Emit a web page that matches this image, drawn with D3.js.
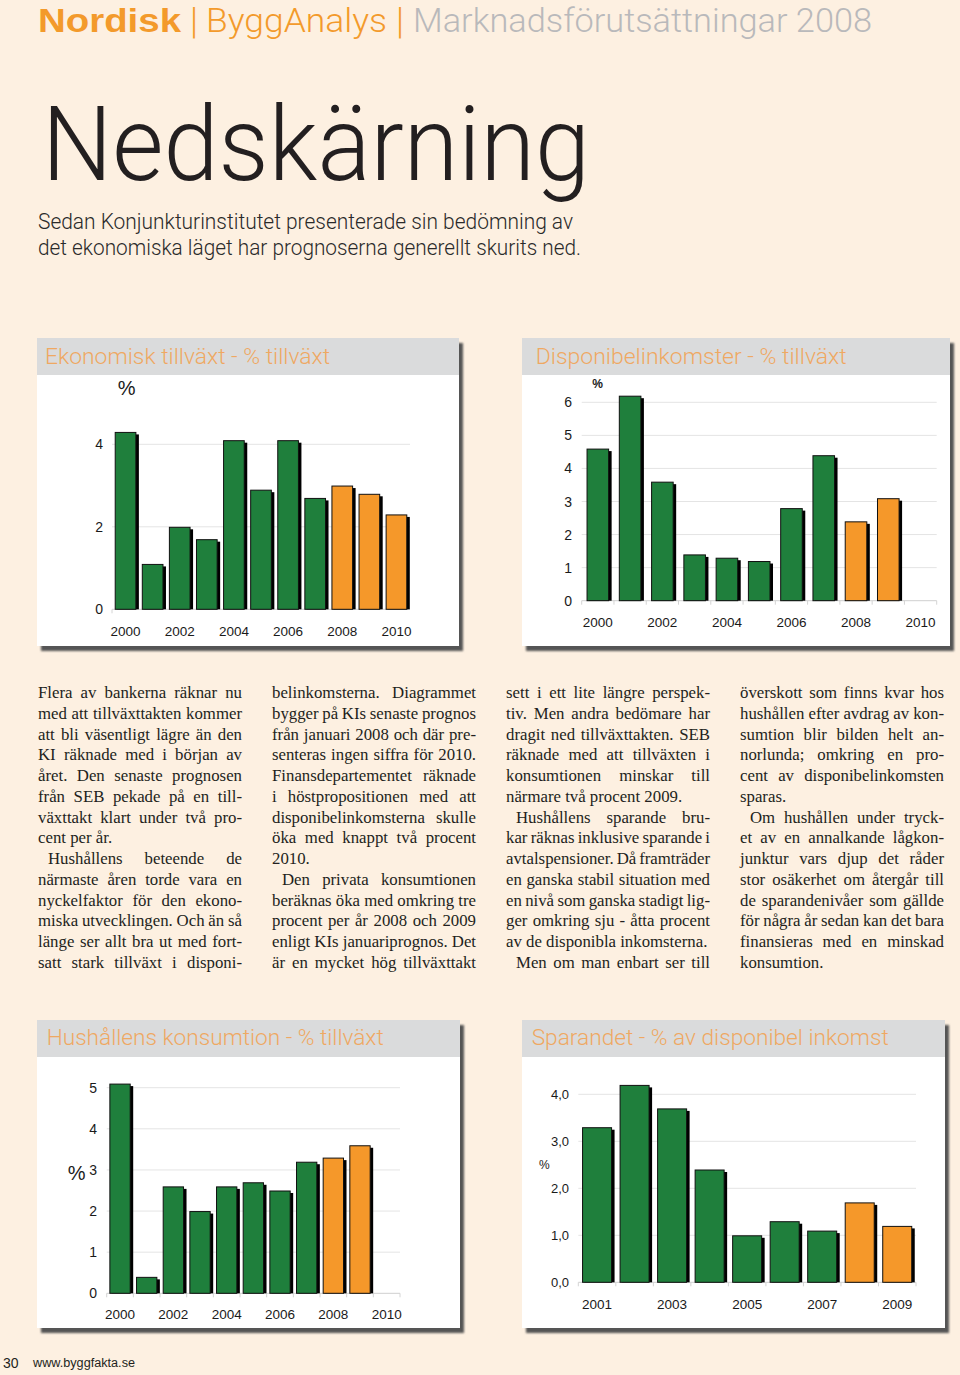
<!DOCTYPE html>
<html><head><meta charset="utf-8">
<script src="https://cdn.jsdelivr.net/npm/d3@7"></script>
<style>
html,body{margin:0;padding:0;background:#fdf0e1;}
svg{display:block}
</style></head><body>
<script>
// ---------- DATA ----------
const forecastStart = 2008;

const ekYears  = [2000,2001,2002,2003,2004,2005,2006,2007,2008,2009,2010];
const ekValues = [4.3,1.1,2.0,1.7,4.1,2.9,4.1,2.7,3.0,2.8,2.3];
const ekTicks  = [0,2,4];
const ekYearLabels = [2000,2002,2004,2006,2008,2010];

const dispYears  = [2000,2001,2002,2003,2004,2005,2006,2007,2008,2009,2010];
const dispValues = [4.6,6.2,3.6,1.4,1.3,1.2,2.8,4.4,2.4,3.1,null];
const dispTicks  = [0,1,2,3,4,5,6];
const dispYearLabels = [2000,2002,2004,2006,2008,2010];

const konsYears  = [2000,2001,2002,2003,2004,2005,2006,2007,2008,2009,2010];
const konsValues = [5.1,0.4,2.6,2.0,2.6,2.7,2.5,3.2,3.3,3.6,null];
const konsTicks  = [0,1,2,3,4,5];
const konsYearLabels = [2000,2002,2004,2006,2008,2010];

const sparYears  = [2001,2002,2003,2004,2005,2006,2007,2008,2009];
const sparValues = [3.3,4.2,3.7,2.4,1.0,1.3,1.1,1.7,1.2];
const sparTicks  = [0,1,2,3,4];
const sparYearLabels = [2001,2003,2005,2007,2009];

const col1 = [
 ["Flera av bankerna räknar nu",1,0],
 ["med att tillväxttakten kommer",1,0],
 ["att bli väsentligt lägre än den",1,0],
 ["KI räknade med i början av",1,0],
 ["året. Den senaste prognosen",1,0],
 ["från SEB pekade på en till-",1,0],
 ["växttakt klart under två pro-",1,0],
 ["cent per år.",0,0],
 ["Hushållens beteende de",1,1],
 ["närmaste åren torde vara en",1,0],
 ["nyckelfaktor för den ekono-",1,0],
 ["miska utvecklingen. Och än så",1,0],
 ["länge ser allt bra ut med fort-",1,0],
 ["satt stark tillväxt i disponi-",1,0]];
const col2 = [
 ["belinkomsterna. Diagrammet",1,0],
 ["bygger på KIs senaste prognos",1,0],
 ["från januari 2008 och där pre-",1,0],
 ["senteras ingen siffra för 2010.",1,0],
 ["Finansdepartementet räknade",1,0],
 ["i höstpropositionen med att",1,0],
 ["disponibelinkomsterna skulle",1,0],
 ["öka med knappt två procent",1,0],
 ["2010.",0,0],
 ["Den privata konsumtionen",1,1],
 ["beräknas öka med omkring tre",1,0],
 ["procent per år 2008 och 2009",1,0],
 ["enligt KIs januariprognos. Det",1,0],
 ["är en mycket hög tillväxttakt",1,0]];
const col3 = [
 ["sett i ett lite längre perspek-",1,0],
 ["tiv. Men andra bedömare har",1,0],
 ["dragit ned tillväxttakten. SEB",1,0],
 ["räknade med att tillväxten i",1,0],
 ["konsumtionen minskar till",1,0],
 ["närmare två procent 2009.",0,0],
 ["Hushållens sparande bru-",1,1],
 ["kar räknas inklusive sparande i",1,0],
 ["avtalspensioner. Då framträder",1,0],
 ["en ganska stabil situation med",1,0],
 ["en nivå som ganska stadigt lig-",1,0],
 ["ger omkring sju - åtta procent",1,0],
 ["av de disponibla inkomsterna.",0,0],
 ["Men om man enbart ser till",1,1]];
const col4 = [
 ["överskott som finns kvar hos",1,0],
 ["hushållen efter avdrag av kon-",1,0],
 ["sumtion blir bilden helt an-",1,0],
 ["norlunda; omkring en pro-",1,0],
 ["cent av disponibelinkomsten",1,0],
 ["sparas.",0,0],
 ["Om hushållen under tryck-",1,1],
 ["et av en annalkande lågkon-",1,0],
 ["junktur vars djup det råder",1,0],
 ["stor osäkerhet om återgår till",1,0],
 ["de sparandenivåer som gällde",1,0],
 ["för några år sedan kan det bara",1,0],
 ["finansieras med en minskad",1,0],
 ["konsumtion.",0,0]];

// ---------- DRAW ----------
const W = 960, H = 1375;
const GREEN = "#1f7f3c", ORANGE = "#f5982a", TITLE = "#efa862";
const SANS = "'Liberation Sans', Arial, sans-serif";
const LIGHT = "Roboto, 'Liberation Sans', sans-serif";

const svg = d3.select("body").append("svg").attr("width", W).attr("height", H);
svg.append("rect").attr("width", W).attr("height", H).attr("fill", "#fdf0e1");
const defs = svg.append("defs");
defs.append("filter").attr("id","blur").attr("x","-5%").attr("y","-5%").attr("width","110%").attr("height","110%")
  .append("feGaussianBlur").attr("stdDeviation", 1);

function fitText(sel, width) {
  sel.attr("textLength", width).attr("lengthAdjust", "spacingAndGlyphs");
  return sel;
}

// Header
const hdr = svg.append("g");
fitText(hdr.append("text").attr("x",38).attr("y",32).attr("font-family",SANS).attr("font-weight","bold")
  .attr("font-size",34).attr("fill","#f39a2b").text("Nordisk"), 143);
hdr.append("text").attr("x",190).attr("y",33).attr("font-family",LIGHT).attr("font-weight",300)
  .attr("font-size",36).attr("fill","#f39a2b").text("|");
fitText(hdr.append("text").attr("x",206).attr("y",32).attr("font-family",LIGHT).attr("font-weight",300)
  .attr("font-size",34).attr("fill","#f39a2b").text("ByggAnalys"), 181);
hdr.append("text").attr("x",396).attr("y",33).attr("font-family",LIGHT).attr("font-weight",300)
  .attr("font-size",36).attr("fill","#f39a2b").text("|");
fitText(hdr.append("text").attr("x",413).attr("y",32).attr("font-family",LIGHT).attr("font-weight",300)
  .attr("font-size",34).attr("fill","#b9b9bb").text("Marknadsförutsättningar 2008"), 459);

fitText(svg.append("text").attr("x",42).attr("y",180).attr("font-family",LIGHT).attr("font-weight",300)
  .attr("font-size",104).attr("fill","#231f20").text("Nedskärning"), 548);

fitText(svg.append("text").attr("x",38).attr("y",229).attr("font-family",LIGHT).attr("font-weight",300)
  .attr("font-size",22).attr("fill","#2a2a2a").text("Sedan Konjunkturinstitutet presenterade sin bedömning av"), 535);
fitText(svg.append("text").attr("x",38).attr("y",255).attr("font-family",LIGHT).attr("font-weight",300)
  .attr("font-size",22).attr("fill","#2a2a2a").text("det ekonomiska läget har prognoserna generellt skurits ned."), 543);

// Charts
function drawChart(c) {
  const g = svg.append("g");
  g.append("rect").attr("x", c.px+4).attr("y", c.py+5).attr("width", c.pw).attr("height", c.ph)
    .attr("fill", "#555").attr("filter","url(#blur)");
  g.append("rect").attr("x", c.px).attr("y", c.py).attr("width", c.pw).attr("height", c.ph).attr("fill", "#fff");
  g.append("rect").attr("x", c.px).attr("y", c.py).attr("width", c.pw).attr("height", 37).attr("fill", "#dadbdc");
  fitText(g.append("text").attr("x", c.tx).attr("y", c.ty).attr("font-family", LIGHT).attr("font-weight",300)
    .attr("font-size", 22).attr("fill", TITLE).text(c.title), c.tw);

  const x = d3.scaleBand().domain(c.years).range(c.xr).paddingInner(c.pin).paddingOuter(c.pout);
  const y = d3.scaleLinear().domain([0, c.ymax]).range(c.yr);

  g.append("g").selectAll("line").data(c.ticks).join("line")
    .attr("x1", c.xr[0]).attr("x2", c.xr[1]).attr("y1", d => y(d)).attr("y2", d => y(d))
    .attr("stroke", d => d === 0 ? "#cfcfcf" : "#e4e4e4").attr("stroke-width", 1);
  if (c.bticks) {
    const bounds = c.years.map(d => x(d) - x.step()*x.paddingInner()/2);
    bounds.push(c.xr[1]);
    g.append("g").selectAll("line").data(bounds).join("line")
      .attr("x1", d => d).attr("x2", d => d).attr("y1", y(0)).attr("y2", y(0)+4)
      .attr("stroke", "#d4d4d4");
  } else {
    g.append("line").attr("x1", c.xr[0]).attr("x2", c.xr[0]).attr("y1", y(0)).attr("y2", y(0)+4).attr("stroke","#d4d4d4");
  }
  g.append("g").selectAll("text").data(c.ticks).join("text")
    .attr("x", c.ylx).attr("y", d => y(d)).attr("dy", "0.36em").attr("text-anchor", "end")
    .attr("font-family", SANS).attr("font-size", c.yfs).attr("fill", "#1a1a1a")
    .text(c.fmt);
  g.append("g").selectAll("text").data(c.yearLabels).join("text")
    .attr("x", d => x(d) + x.bandwidth()/2).attr("y", c.yly).attr("dy", "0.36em").attr("text-anchor", "middle")
    .attr("font-family", SANS).attr("font-size", c.xfs).attr("fill", "#1a1a1a").text(d => d);
  g.append("text").attr("x", c.pctx).attr("y", c.pcty).attr("dy","0.36em").attr("text-anchor","middle")
    .attr("font-family", SANS).attr("font-size", c.pctfs).attr("font-weight", c.pctbold ? "bold" : "normal")
    .attr("fill", "#1a1a1a").text("%");

  const data = c.years.map((yr, i) => ({yr, v: c.values[i]})).filter(d => d.v != null);
  g.append("g").selectAll("rect").data(data).join("rect")
    .attr("x", d => x(d.yr) + 2.5).attr("y", d => y(d.v) + 2.5)
    .attr("width", x.bandwidth()).attr("height", d => y(0) - y(d.v) - 2.5).attr("fill", "#000");
  g.append("g").selectAll("rect").data(data).join("rect")
    .attr("x", d => x(d.yr) + 0.5).attr("y", d => y(d.v) + 0.5)
    .attr("width", x.bandwidth() - 1).attr("height", d => y(0) - y(d.v) - 0.5)
    .attr("fill", d => d.yr >= forecastStart ? ORANGE : GREEN)
    .attr("stroke", "#111").attr("stroke-width", 1);
}

drawChart({px:37, py:338, pw:422, ph:308, title:"Ekonomisk tillväxt - % tillväxt", tx:45, ty:363.5, tw:285,
  years: ekYears, values: ekValues, ticks: ekTicks, yearLabels: ekYearLabels, ymax:4,
  xr:[112,410], pin:0.2, pout:0.1, yr:[609.3,444.3], ylx:103, yfs:14, xfs:13.5, yly:631,
  pctx:126.7, pcty:388, pctfs:20, pctbold:false, bticks:false, fmt: d => d});

drawChart({px:522, py:338, pw:428, ph:308, title:"Disponibelinkomster - % tillväxt", tx:535.7, ty:363.5, tw:311,
  years: dispYears, values: dispValues, ticks: dispTicks, yearLabels: dispYearLabels, ymax:6,
  xr:[581.7,936.7], pin:0.3, pout:0.15, yr:[600.7,402.3], ylx:572, yfs:14, xfs:13.5, yly:622.3,
  pctx:597.7, pcty:383.3, pctfs:12, pctbold:true, bticks:true, fmt: d => d});

drawChart({px:37, py:1020, pw:423, ph:308, title:"Hushållens konsumtion - % tillväxt", tx:46.7, ty:1045, tw:337,
  years: konsYears, values: konsValues, ticks: konsTicks, yearLabels: konsYearLabels, ymax:5,
  xr:[106.7,400], pin:0.2, pout:0.1, yr:[1293.3,1087.7], ylx:97, yfs:14, xfs:13.5, yly:1314.3,
  pctx:76.7, pcty:1172.7, pctfs:20, pctbold:false, bticks:true, fmt: d => d});

drawChart({px:522, py:1020, pw:423, ph:308, title:"Sparandet - % av disponibel inkomst", tx:531.7, ty:1044.5, tw:357,
  years: sparYears, values: sparValues, ticks: sparTicks, yearLabels: sparYearLabels, ymax:4,
  xr:[578.3,916], pin:0.2, pout:0.1, yr:[1282.3,1094.3], ylx:569, yfs:13, xfs:13.5, yly:1304,
  pctx:544.3, pcty:1164.3, pctfs:12, pctbold:false, bticks:true, fmt: d => d3.format(".1f")(d).replace(".", ",")});

// Body text
const SERIF = "'Liberation Serif', 'Times New Roman', serif";
const colX = [38, 272, 506, 740], colW = 204;
[col1, col2, col3, col4].forEach((lines, ci) => {
  const g = svg.append("g").attr("font-family", SERIF).attr("font-size", 16.8).attr("fill", "#231f20");
  lines.forEach(([t, just, ind], i) => {
    const x0 = colX[ci] + (ind ? 10 : 0);
    const el = g.append("text").attr("x", x0).attr("y", 698.3 + i * 20.72).text(t);
    if (just) {
      const w0 = el.node().getComputedTextLength();
      const n = (t.match(/ /g) || []).length;
      if (n > 0) el.style("word-spacing", ((colW - (ind ? 10 : 0) - w0) / n) + "px");
    }
  });
});

// Footer
svg.append("text").attr("x", 3).attr("y", 1368).attr("font-family", SANS).attr("font-size", 14)
  .attr("fill", "#231f20").text("30");
fitText(svg.append("text").attr("x", 33).attr("y", 1367).attr("font-family", SANS).attr("font-size", 12.5)
  .attr("fill", "#231f20").text("www.byggfakta.se"), 102);
</script>
</body></html>
